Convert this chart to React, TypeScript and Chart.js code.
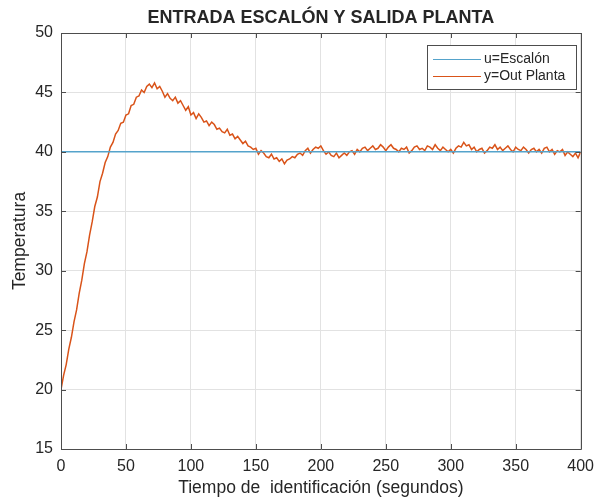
import { useEffect, useRef } from 'react';
import { Chart, registerables } from 'chart.js';

Chart.register(...registerables);

const TITLE = 'ENTRADA ESCALÓN Y SALIDA PLANTA';
const X_TITLE = 'Tiempo de  identificación (segundos)';
const Y_TITLE = 'Temperatura';
const SERIES_LABELS = ['u=Escalón', 'y=Out Planta'];
const SERIES_COLORS = ['#55a3cb', '#d95319'];

const X_MIN = 0;
const X_MAX = 400;
const X_STEP = 50;
const Y_MIN = 15;
const Y_MAX = 50;
const Y_STEP = 5;

// Step input u (constant setpoint)
const STEP_TIME = [0, 400];
const STEP_VALUE = [40, 40];

// Plant output y, sampled every 2 s from t = 0 to t = 400
const SAMPLE_PERIOD = 2;
const Y_OUT = [
  20.0, 21.2, 22.1, 23.4, 24.4, 25.7, 26.7, 28.1, 29.2, 30.6,
  31.6, 33.0, 34.1, 35.4, 36.2, 37.5, 38.2, 39.1, 39.6, 40.4,
  40.8, 41.5, 41.8, 42.4, 42.5, 43.1, 43.2, 43.9, 44.0, 44.6,
  44.7, 45.2, 45.0, 45.5, 45.7, 45.4, 45.8, 45.3, 45.5, 45.1,
  44.6, 44.9, 44.5, 44.3, 44.6, 44.1, 44.3, 43.9, 43.5, 43.8,
  43.1, 43.3, 42.8, 43.2, 42.9, 42.5, 42.6, 42.2, 42.5, 42.3,
  41.9, 42.0, 41.7, 41.6, 41.9, 41.4, 41.5, 41.1, 41.3, 41.0,
  40.7, 40.9, 40.5, 40.4, 40.2, 40.3, 39.8, 40.1, 39.9, 39.6,
  39.5, 39.8, 39.4, 39.5, 39.2, 39.4, 39.0, 39.3, 39.4, 39.6,
  39.5, 39.8, 39.9, 39.7, 40.1, 40.3, 39.9, 40.2, 40.4, 40.3,
  40.5, 40.1, 39.8, 40.0, 39.7, 39.6, 39.9, 39.5, 39.7, 39.9,
  39.7, 40.0, 40.1, 39.8, 40.2, 40.0, 40.3, 40.4, 40.1, 40.3,
  40.5, 40.2, 40.3, 40.6, 40.4, 40.1, 40.4, 40.6, 40.3, 40.2,
  40.0, 40.3, 40.2, 40.4, 39.9, 40.1, 40.4, 40.5, 40.2, 40.3,
  40.1, 40.5, 40.4, 40.2, 40.6, 40.3, 40.1, 40.4, 40.2, 40.0,
  40.2, 39.9, 40.3, 40.5, 40.4, 40.8, 40.5, 40.6, 40.2, 40.4,
  40.0, 40.2, 40.3, 39.9, 40.1, 40.4, 40.3, 40.6, 40.2, 40.4,
  40.1, 40.3, 40.5, 40.2, 40.0, 40.4, 40.2, 40.1, 40.4, 40.2,
  39.9, 40.2, 40.3, 40.0, 40.2, 39.9, 40.3, 40.4, 40.0, 40.2,
  39.8, 40.1, 40.0, 40.2, 39.7, 40.0, 39.8, 39.6, 39.9, 39.5,
  40.0,
];

const FONT = '"Liberation Sans", Arial, Helvetica, sans-serif';
const TEXT_COLOR = '#262626';
const AXIS_COLOR = '#4d4d4d';
const GRID_COLOR = '#e2e2e2';

const px = (v: number) => Math.round(v) + 0.5;

const framePlugin = {
  id: 'matlabFrame',
  afterDraw(chart: any) {
    const { ctx, chartArea } = chart;
    const { left, right, top, bottom } = chartArea;
    const xs = chart.scales.x;
    const ys = chart.scales.y;
    ctx.save();
    ctx.strokeStyle = AXIS_COLOR;
    ctx.lineWidth = 1;
    ctx.beginPath();
    ctx.rect(px(left), px(top), Math.round(right) - Math.round(left), Math.round(bottom) - Math.round(top));
    ctx.stroke();
    const tl = 5;
    ctx.beginPath();
    xs.ticks.forEach((t: any) => {
      const x = px(xs.getPixelForValue(t.value));
      ctx.moveTo(x, bottom);
      ctx.lineTo(x, bottom - tl);
      ctx.moveTo(x, top);
      ctx.lineTo(x, top + tl);
    });
    ys.ticks.forEach((t: any) => {
      const y = px(ys.getPixelForValue(t.value));
      ctx.moveTo(left, y);
      ctx.lineTo(left + tl, y);
      ctx.moveTo(right, y);
      ctx.lineTo(right - tl, y);
    });
    ctx.stroke();

    // title
    ctx.fillStyle = TEXT_COLOR;
    ctx.font = `bold 18px ${FONT}`;
    ctx.textAlign = 'center';
    ctx.textBaseline = 'middle';
    ctx.fillText(TITLE, (left + right) / 2, 18);

    // legend
    const bx = 427, by = 45, bw = 149, bh = 44;
    ctx.fillStyle = '#ffffff';
    ctx.fillRect(bx, by, bw, bh);
    ctx.strokeStyle = AXIS_COLOR;
    ctx.strokeRect(bx + 0.5, by + 0.5, bw, bh);
    ctx.font = `14px ${FONT}`;
    ctx.textAlign = 'left';
    chart.data.datasets.forEach((ds: any, i: number) => {
      const ly = by + 13.5 + i * 17;
      ctx.strokeStyle = ds.borderColor;
      ctx.lineWidth = 1;
      ctx.beginPath();
      ctx.moveTo(bx + 6, Math.round(ly) + 0.5);
      ctx.lineTo(bx + 54, Math.round(ly) + 0.5);
      ctx.stroke();
      ctx.fillStyle = TEXT_COLOR;
      ctx.fillText(ds.label, bx + 57, ly + 0.5);
    });
    ctx.restore();
  },
};

export default function App() {
  const canvasRef = useRef<HTMLCanvasElement | null>(null);

  useEffect(() => {
    document.body.style.margin = '0';
    const canvas = canvasRef.current;
    if (!canvas) return;
    const time = Y_OUT.map((_, i) => i * SAMPLE_PERIOD);
    const chart = new Chart(canvas, {
      type: 'line',
      data: {
        datasets: [
          {
            label: SERIES_LABELS[0],
            data: STEP_TIME.map((t, i) => ({ x: t, y: STEP_VALUE[i] })),
            borderColor: SERIES_COLORS[0],
            backgroundColor: SERIES_COLORS[0],
            borderWidth: 1.5,
            pointRadius: 0,
            tension: 0,
          },
          {
            label: SERIES_LABELS[1],
            data: Y_OUT.map((v, i) => ({ x: time[i], y: v })),
            borderColor: SERIES_COLORS[1],
            backgroundColor: SERIES_COLORS[1],
            borderWidth: 1.5,
            pointRadius: 0,
            tension: 0,
          },
        ],
      },
      options: {
        responsive: false,
        animation: false,
        layout: { padding: { top: 33, right: 16, left: 0, bottom: 0 } },
        plugins: {
          legend: { display: false },
          tooltip: { enabled: false },
          title: { display: false },
        },
        scales: {
          x: {
            type: 'linear',
            min: X_MIN,
            max: X_MAX,
            ticks: {
              stepSize: X_STEP,
              maxRotation: 0,
              padding: 8,
              color: TEXT_COLOR,
              font: { family: FONT, size: 16 },
            },
            grid: { color: GRID_COLOR, drawTicks: false },
            border: { display: false },
            title: {
              display: true,
              text: X_TITLE,
              color: TEXT_COLOR,
              font: { family: FONT, size: 17.5 },
              padding: { top: 0, bottom: 3 },
            },
            afterFit: (s: any) => {
              s.height = 53;
            },
          },
          y: {
            type: 'linear',
            min: Y_MIN,
            max: Y_MAX,
            ticks: {
              stepSize: Y_STEP,
              padding: 8,
              color: TEXT_COLOR,
              font: { family: FONT, size: 16 },
            },
            grid: { color: GRID_COLOR, drawTicks: false },
            border: { display: false },
            title: {
              display: true,
              text: Y_TITLE,
              color: TEXT_COLOR,
              font: { family: FONT, size: 17.5 },
              padding: { top: 10, bottom: 0 },
            },
            afterFit: (s: any) => {
              s.width = 61;
            },
          },
        },
      },
      plugins: [framePlugin],
    });
    return () => chart.destroy();
  }, []);

  return (
    <div style={{ width: 602, height: 502 }}>
      <canvas ref={canvasRef} width={602} height={502} style={{ display: 'block' }} />
    </div>
  );
}
